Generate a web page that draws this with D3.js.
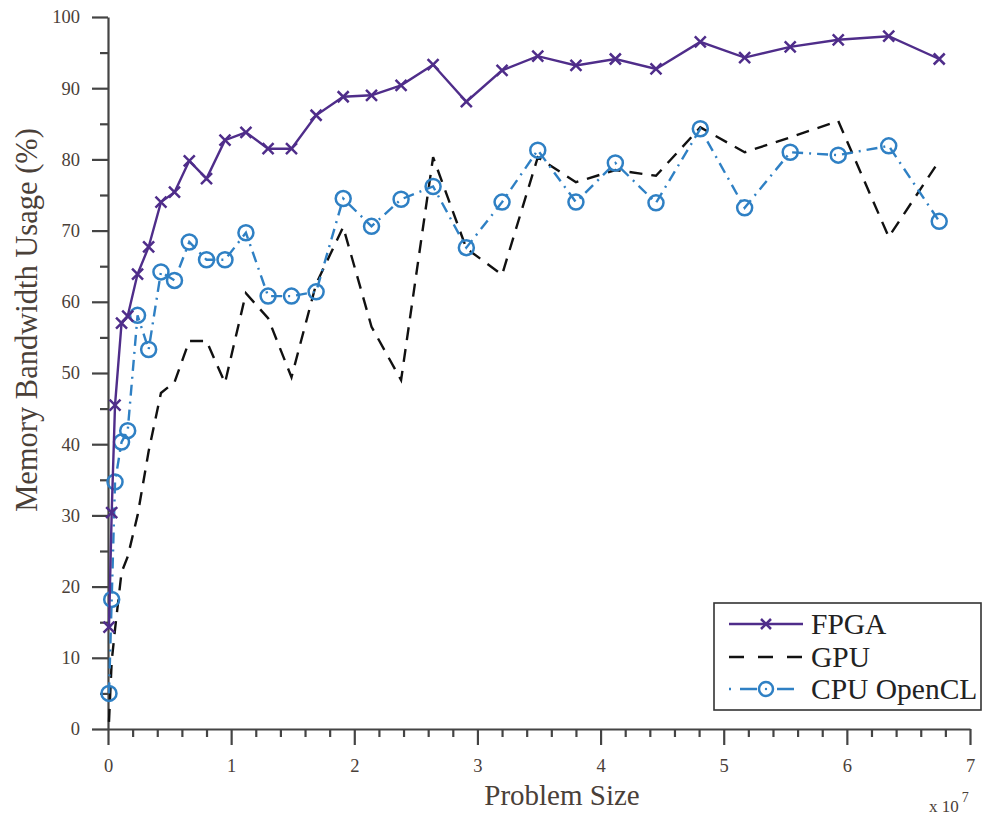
<!DOCTYPE html>
<html>
<head>
<meta charset="utf-8">
<script src="https://cdn.jsdelivr.net/npm/d3@7/dist/d3.min.js"></script>
<style>
  html, body { margin: 0; padding: 0; background: #fff; }
  svg { display: block; }
  text { font-family: "Liberation Serif", "DejaVu Serif", serif; }
</style>
</head>
<body>
<svg id="chart" width="983" height="819"></svg>
<script>
// ---- data (problem size in units of 10^7, bandwidth usage in %) ----
const problemSize = [0.008, 0.03, 0.057, 0.11, 0.16, 0.24, 0.33, 0.43, 0.54, 0.66, 0.80, 0.95,
  1.12, 1.30, 1.49, 1.69, 1.91, 2.14, 2.38, 2.64, 2.91, 3.20, 3.49, 3.80, 4.12, 4.45,
  4.81, 5.17, 5.54, 5.93, 6.34, 6.75];
const fpga = [14.3, 30.4, 45.5, 57.0, 58.0, 63.9, 67.7, 74.0, 75.4, 79.8, 77.3, 82.7,
  83.8, 81.5, 81.5, 86.2, 88.8, 89.0, 90.4, 93.3, 88.1, 92.5, 94.5, 93.2, 94.1, 92.7,
  96.5, 94.3, 95.8, 96.8, 97.3, 94.1];
const gpu = [1.0, 9.5, 14.0, 22.0, 24.2, 30.0, 39.0, 47.2, 48.7, 54.5, 54.5, 48.6,
  61.2, 57.7, 49.4, 62.5, 70.5, 56.5, 49.0, 80.3, 67.5, 63.8, 80.3, 76.8, 78.5, 77.7,
  84.5, 81.0, 83.1, 85.4, 69.1, 79.8];
const cpuOpenCL = [5.0, 18.2, 34.7, 40.3, 41.9, 58.1, 53.3, 64.2, 63.0, 68.4, 65.9, 65.9,
  69.7, 60.8, 60.8, 61.4, 74.5, 70.6, 74.4, 76.2, 67.6, 74.0, 81.3, 74.0, 79.5, 73.9,
  84.3, 73.2, 81.0, 80.6, 81.9, 71.3];
const seriesNames = ["FPGA", "GPU", "CPU OpenCL"];
const xTicks = [0, 1, 2, 3, 4, 5, 6, 7];
const yTicks = [0, 10, 20, 30, 40, 50, 60, 70, 80, 90, 100];
const xLabel = "Problem Size";
const yLabel = "Memory Bandwidth Usage (%)";
const xExponent = "7";

// ---- layout ----
const svg = d3.select("#chart");
const x = d3.scaleLinear().domain([0, 7]).range([108, 970]);
const y = d3.scaleLinear().domain([0, 100]).range([729, 17]);
const axisColor = "#444";
const labelColor = "#4a4038";
const purple = "#4f2d8a";
const blue = "#2f80c4";

// minor ticks
const xMinor = d3.range(0, 7.0001, 0.2).map(v => +v.toFixed(1)).filter(v => !xTicks.includes(v));
const yMinor = d3.range(5, 100, 10);

const gx = svg.append("g").attr("transform", `translate(0,${y(0)})`);
gx.call(d3.axisBottom(x).tickValues(xTicks).tickFormat(d3.format("d")).tickSize(16).tickSizeOuter(0).tickPadding(14));
gx.append("g").call(d3.axisBottom(x).tickValues(xMinor).tickFormat("").tickSize(8).tickSizeOuter(0))
  .select(".domain").remove();

const gy = svg.append("g").attr("transform", `translate(${x(0)},0)`);
gy.call(d3.axisLeft(y).tickValues(yTicks).tickFormat(d3.format("d")).tickSize(16).tickSizeOuter(0).tickPadding(12));
gy.append("g").call(d3.axisLeft(y).tickValues(yMinor).tickFormat("").tickSize(8).tickSizeOuter(0))
  .select(".domain").remove();

svg.selectAll(".domain, .tick line").attr("stroke", axisColor).attr("stroke-width", 2.2);
svg.selectAll(".tick text").attr("fill", labelColor).style("font-size", "18.5px")
  .style("font-family", '"Liberation Serif", serif');

// axis titles
svg.append("text").attr("x", 562).attr("y", 805).attr("text-anchor", "middle")
  .attr("fill", labelColor).style("font-size", "29px").text(xLabel);
svg.append("text").attr("transform", "translate(37,320) rotate(-90)").attr("text-anchor", "middle")
  .attr("fill", labelColor).style("font-size", "30.5px").text(yLabel);
const ex = svg.append("text").attr("x", 929).attr("y", 812).attr("fill", labelColor).style("font-size", "17px");
ex.append("tspan").text("x 10");
ex.append("tspan").attr("dx", 3).attr("dy", -10).style("font-size", "14px").text(xExponent);

// ---- series ----
const line = d3.line().x(d => x(d[0])).y(d => y(d[1]));
const pts = arr => problemSize.map((p, i) => [p, arr[i]]);

// GPU dashed
svg.append("path").datum(pts(gpu)).attr("d", line).attr("fill", "none")
  .attr("stroke", "#111").attr("stroke-width", 2.4).attr("stroke-dasharray", "13,9");

// CPU OpenCL dash-dot with circles
svg.append("path").datum(pts(cpuOpenCL)).attr("d", line).attr("fill", "none")
  .attr("stroke", blue).attr("stroke-width", 2.4).attr("stroke-dasharray", "11,6,2,6");
svg.append("g").selectAll("circle").data(pts(cpuOpenCL)).join("circle")
  .attr("cx", d => x(d[0])).attr("cy", d => y(d[1])).attr("r", 7.5)
  .attr("fill", "none").attr("stroke", blue).attr("stroke-width", 2.5);

// FPGA solid with x markers
svg.append("path").datum(pts(fpga)).attr("d", line).attr("fill", "none")
  .attr("stroke", purple).attr("stroke-width", 2.4);
const xMark = (g, cx, cy, s) => g.append("path")
  .attr("d", `M${cx - s},${cy - s}L${cx + s},${cy + s}M${cx - s},${cy + s}L${cx + s},${cy - s}`)
  .attr("stroke", purple).attr("stroke-width", 2.5).attr("fill", "none");
const gm = svg.append("g");
pts(fpga).forEach(d => xMark(gm, x(d[0]), y(d[1]), 5.5));

// ---- legend ----
const lg = svg.append("g");
lg.append("rect").attr("x", 714).attr("y", 603).attr("width", 267).attr("height", 107)
  .attr("fill", "#fff").attr("stroke", "#333").attr("stroke-width", 1.6);
const rows = [624, 657, 689];
const lx0 = 729, lx1 = 803, lmid = 766;
// FPGA
lg.append("line").attr("x1", lx0).attr("x2", lx1).attr("y1", rows[0]).attr("y2", rows[0])
  .attr("stroke", purple).attr("stroke-width", 2.4);
xMark(lg, lmid, rows[0], 5);
// GPU
lg.append("line").attr("x1", lx0).attr("x2", lx1).attr("y1", rows[1]).attr("y2", rows[1])
  .attr("stroke", "#111").attr("stroke-width", 2.4).attr("stroke-dasharray", "15,14");
// CPU
lg.append("line").attr("x1", lx0).attr("x2", lx1).attr("y1", rows[2]).attr("y2", rows[2])
  .attr("stroke", blue).attr("stroke-width", 2.4).attr("stroke-dasharray", "2,9,17,20,17,9,2");
lg.append("circle").attr("cx", lmid).attr("cy", rows[2]).attr("r", 7)
  .attr("fill", "#fff").attr("stroke", blue).attr("stroke-width", 2.5);
lg.append("circle").attr("cx", lmid).attr("cy", rows[2]).attr("r", 1.2).attr("fill", blue);
seriesNames.forEach((n, i) => {
  lg.append("text").attr("x", 811).attr("y", rows[i] + 10).attr("fill", "#222")
    .style("font-size", "29.5px").text(n);
});
</script>
</body>
</html>
